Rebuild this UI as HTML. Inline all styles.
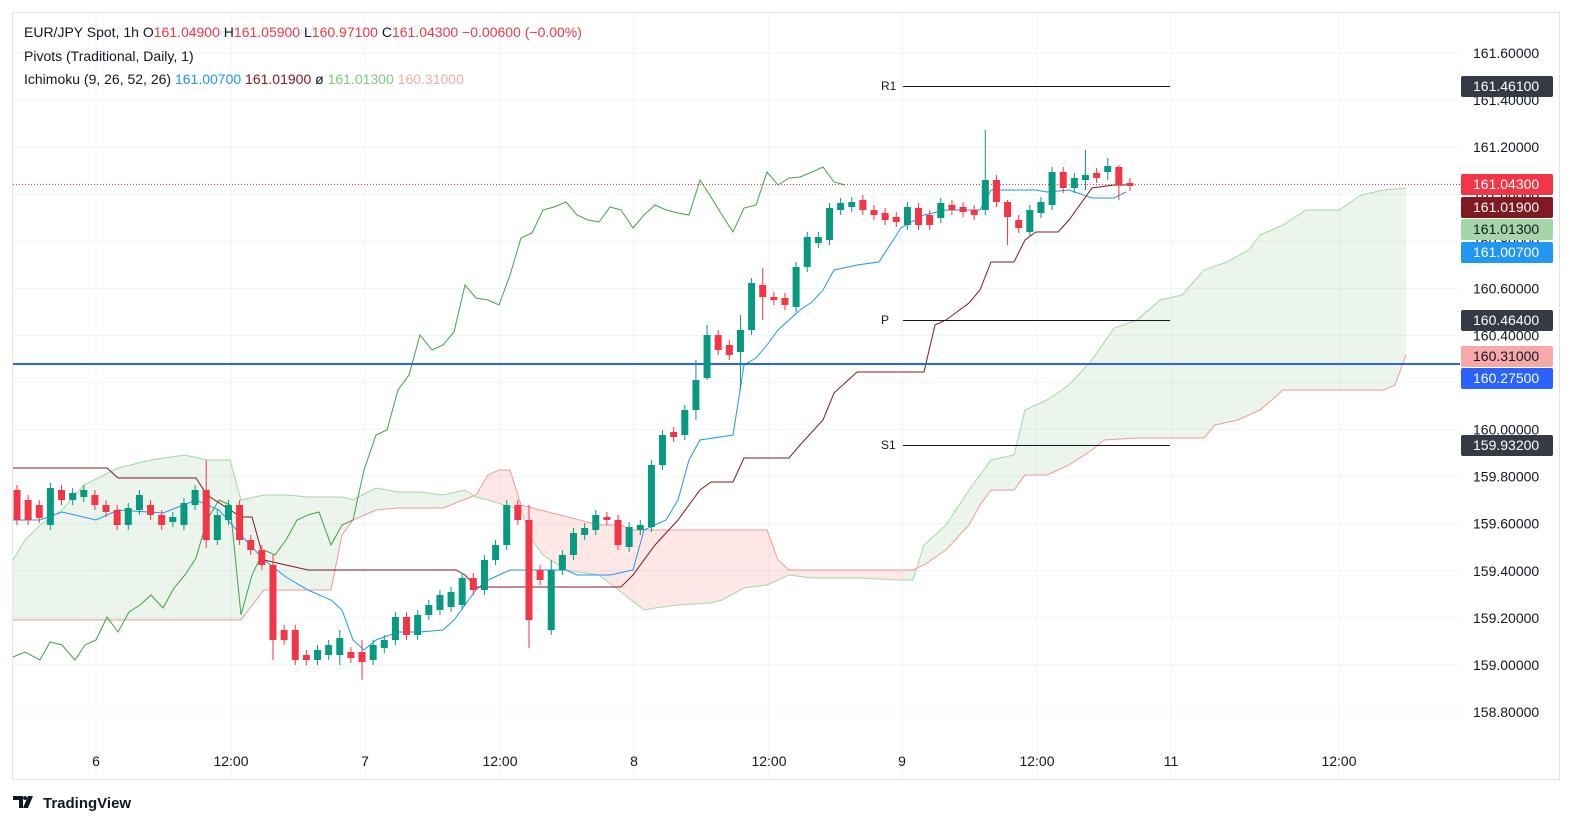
<!DOCTYPE html>
<html><head><meta charset="utf-8"><style>
body{margin:0;background:#fff;width:1572px;height:828px;overflow:hidden;font-family:"Liberation Sans",sans-serif}
svg{position:absolute;left:0;top:0}
</style></head><body>
<svg id="s" width="1572" height="828" xmlns="http://www.w3.org/2000/svg" font-family="Liberation Sans, sans-serif">
<rect x="12.5" y="12.5" width="1547" height="767" fill="#fff" stroke="#e0e3eb"/>
<g id="grid" stroke="#f0f3fa" stroke-width="1"></g>
<g id="cloud"></g>
<g id="lines" fill="none"></g>
<line x1="13" y1="184.5" x2="1460" y2="184.5" stroke="#f23645" stroke-dasharray="1,2"/>
<line x1="13" y1="364" x2="1460" y2="364" stroke="#2962ff" stroke-width="2"/>
<g stroke="#131722" stroke-width="1">
<line x1="903" y1="86.5" x2="1170" y2="86.5"/><line x1="903" y1="320.5" x2="1170" y2="320.5"/><line x1="903" y1="445.5" x2="1170" y2="445.5"/></g>
<g font-size="12" fill="#131722"><text x="881" y="90">R1</text><text x="881" y="324">P</text><text x="881" y="449">S1</text></g>
<g id="candles"></g>
<g id="axis" font-size="14" fill="#131722"></g>
<g font-size="14" fill="#131722" text-anchor="middle">
<text x="96" y="766">6</text><text x="231" y="766">12:00</text><text x="365" y="766">7</text><text x="500" y="766">12:00</text><text x="634" y="766">8</text><text x="769" y="766">12:00</text><text x="902" y="766">9</text><text x="1037" y="766">12:00</text><text x="1171" y="766">11</text><text x="1339" y="766">12:00</text></g>
<g font-size="14">
<text x="24" y="37" fill="#131722">EUR/JPY Spot, 1h <tspan fill="#f23645"><tspan fill="#131722">O</tspan>161.04900 <tspan fill="#131722">H</tspan>161.05900 <tspan fill="#131722">L</tspan>160.97100 <tspan fill="#131722">C</tspan>161.04300 −0.00600 (−0.00%)</tspan></text>
<text x="24" y="61" fill="#131722">Pivots (Traditional, Daily, 1)</text>
<text x="24" y="84" fill="#131722">Ichimoku (9, 26, 52, 26) <tspan fill="#2196f3">161.00700</tspan> <tspan fill="#801922">161.01900</tspan> <tspan fill="#131722">ø</tspan> <tspan fill="#81c784">161.01300</tspan> <tspan fill="#f7a9a7">160.31000</tspan></text>
</g>
<g id="labels" font-size="14"></g>
<g transform="translate(13,796)"><path d="M0 0h10v12h-4v-8h-6z M12 0a2 2 0 1 0 0.1 0z M15 0h5l-5 12h-5z" fill="#131722"/><text x="30" y="12" font-size="15" font-weight="bold" fill="#131722">TradingView</text></g>
</svg>
<script>
const NS="http://www.w3.org/2000/svg";
function el(p,t,a,txt){const e=document.createElementNS(NS,t);for(const k in a)e.setAttribute(k,a[k]);if(txt)e.textContent=txt;document.getElementById(p).appendChild(e);return e;}
// grid + axis
for(let k=0;k<15;k++){const y=53+47.07*k;const v=(161.6-0.2*k).toFixed(5);
el('grid','line',{x1:13,x2:1460,y1:y,y2:y});
el('axis','text',{x:1473,y:y+5},v);}
[96,231,365,500,634,769,902,1037,1171,1339].forEach(x=>el('grid','line',{x1:x,x2:x,y1:13,y2:780}));
const pts=a=>a.map(p=>p.join(',')).join(' ');
const A=[[13,560],[25,540],[40,525],[62,510],[84,485],[118,468],[151,460],[185,455],[207,460],[230,460],[241,500],[264,495],[286,495],[308,497],[342,497],[353,500],[376,488],[398,492],[420,492],[443,495],[465,490],[476,497],[488,500],[521,510],[532,540],[543,555],[566,570],[599,575],[621,592],[644,610],[655,608],[678,605],[711,603],[722,600],[744,588],[767,585],[789,575],[812,578],[857,578],[901,580],[913,580],[924,545],[946,525],[969,490],[991,460],[1014,455],[1025,410],[1047,400],[1069,385],[1092,360],[1114,328],[1137,320],[1160,300],[1182,295],[1204,270],[1227,262],[1249,250],[1260,235],[1283,225],[1306,210],[1339,210],[1361,195],[1384,190],[1406,188]];
const B=[[13,620],[241,620],[264,590],[331,590],[342,535],[353,520],[376,510],[398,508],[443,508],[476,495],[488,475],[499,470],[510,470],[521,505],[599,525],[621,525],[633,530],[767,530],[778,560],[789,570],[901,570],[913,570],[924,565],[946,550],[969,525],[980,505],[991,490],[1014,490],[1025,475],[1047,475],[1069,465],[1092,450],[1104,440],[1137,438],[1204,438],[1215,425],[1238,420],[1260,410],[1272,400],[1283,390],[1384,390],[1395,385],[1406,355]];
const poly=pts(A)+' '+pts(B.slice().reverse());
const defs=el('cloud','defs',{});
defs.innerHTML='<clipPath id="cg"><rect x="0" y="0" width="470" height="828"/><rect x="905" y="0" width="600" height="828"/></clipPath><clipPath id="cr"><rect x="470" y="0" width="435" height="828"/></clipPath>';
el('cloud','polygon',{points:poly,fill:'rgba(67,160,71,0.1)','clip-path':'url(#cg)'});
el('cloud','polygon',{points:poly,fill:'rgba(244,67,54,0.12)','clip-path':'url(#cr)'});
el('lines','polyline',{points:pts(A),stroke:'#a5d6a7','stroke-width':1});
el('lines','polyline',{points:pts(B),stroke:'#ef9a9a','stroke-width':1});
const lag=[[13,657],[25,652],[40,660],[50,642],[62,645],[75,660],[85,645],[96,640],[107,617],[118,632],[129,612],[140,605],[151,595],[163,608],[174,588],[185,575],[196,558],[207,520],[219,500],[230,505],[241,615],[252,575],[264,550],[275,555],[286,540],[297,520],[308,515],[319,512],[331,545],[342,525],[353,520],[364,470],[376,435],[387,430],[398,390],[409,375],[420,335],[432,350],[443,345],[454,332],[465,285],[476,298],[488,300],[499,305],[510,275],[521,238],[532,233],[543,210],[554,207],[566,202],[577,215],[588,220],[599,222],[610,207],[621,210],[633,228],[644,215],[655,205],[666,210],[678,213],[689,215],[700,180],[711,197],[722,215],[733,232],[744,208],[756,205],[767,172],[778,185],[789,178],[800,177],[812,172],[823,167],[834,182],[845,185]];
el('lines','polyline',{points:pts(lag),stroke:'#43a047','stroke-width':1});
const conv=[[13,520],[40,520],[62,512],[96,520],[118,510],[163,513],[196,500],[219,510],[241,535],[264,560],[286,577],[308,590],[331,600],[342,610],[353,640],[364,650],[376,640],[398,632],[420,632],[443,630],[454,620],[465,605],[476,590],[488,580],[499,575],[510,570],[566,570],[577,575],[610,575],[633,570],[644,530],[666,520],[678,500],[689,460],[700,440],[733,435],[744,365],[756,358],[767,345],[778,330],[800,310],[812,302],[823,290],[834,270],[857,265],[879,262],[890,245],[901,228],[924,215],[946,210],[980,210],[991,190],[1036,190],[1047,192],[1069,190],[1092,198],[1114,198],[1126,192]];
el('lines','polyline',{points:pts(conv),stroke:'#2196f3','stroke-width':1});
const base=[[13,468],[107,468],[118,478],[196,478],[207,495],[241,517],[252,517],[264,560],[286,565],[308,570],[456,570],[465,575],[476,587],[621,587],[633,575],[655,545],[678,520],[700,490],[711,482],[733,482],[744,458],[789,458],[800,445],[823,420],[834,393],[857,372],[924,372],[935,325],[946,320],[969,303],[980,290],[991,262],[1014,262],[1025,240],[1036,232],[1058,232],[1069,220],[1092,188],[1114,185],[1126,185]];
el('lines','polyline',{points:pts(base),stroke:'#801922','stroke-width':1});
// candles: [top,bottom,green]
const C=[[490,520,0],[500,520,0],[505,518,0],[488,525,1],[490,500,0],[493,500,1],[490,497,1],[495,505,0],[505,512,0],[510,525,0],[508,525,1],[495,510,1],[505,515,0],[515,525,0],[517,522,1],[503,525,1],[490,505,1],[490,540,0],[515,540,1],[505,520,1],[505,540,0],[540,550,0],[550,565,0],[565,640,0],[630,640,0],[630,660,0],[655,660,0],[650,660,1],[645,655,1],[638,655,1],[652,658,0],[652,662,0],[645,660,1],[640,648,1],[617,640,1],[617,635,0],[615,635,1],[605,615,1],[595,610,1],[592,607,1],[578,605,1],[578,590,0],[560,590,1],[545,560,1],[505,545,1],[505,520,0],[520,620,0],[570,580,0],[570,630,1],[555,570,1],[533,555,1],[528,535,1],[515,530,1],[517,520,0],[520,545,0],[527,547,1],[525,530,1],[465,527,1],[435,465,1],[432,437,0],[410,435,1],[380,410,1],[335,378,1],[335,350,0],[345,355,0],[330,352,1],[283,330,1],[285,297,0],[297,300,0],[298,305,0],[267,307,1],[237,267,1],[237,243,1],[208,240,1],[203,210,1],[202,207,1],[200,210,0],[210,215,0],[213,220,0],[217,222,0],[207,225,1],[208,225,0],[215,225,0],[203,218,1],[205,210,0],[207,212,0],[210,215,0],[180,210,1],[180,202,0],[202,217,0],[220,228,0],[210,232,1],[202,213,1],[172,205,1],[172,188,0],[178,188,1],[175,180,1],[173,178,0],[166,172,1],[167,185,0],[183,186,0]];
const wick={17:[460,548],23:[555,660],46:[505,648],48:[560,635],87:[130,215],89:[200,245],96:[150,190],98:[158,180],99:[165,200],61:[360,420],65:[315,390],67:[268,320],62:[325,380],29:[630,665],31:[640,680],22:[545,570]};
C.forEach((c,i)=>{const x=17+11.13*i;const col=c[2]?'#089981':'#f23645';
let w=wick[i]||[c[0]-5,c[1]+5];
el('candles','line',{x1:x,x2:x,y1:w[0],y2:w[1],stroke:col});
el('candles','rect',{x:x-3.5,y:c[0],width:7,height:Math.max(1,c[1]-c[0]),fill:col});});
// right labels
const L=[[86,'161.46100','#363a45','#fff'],[184,'161.04300','#f23645','#fff'],[207,'161.01900','#801922','#fff'],[229,'161.01300','#a5d6a7','#131722'],[252,'161.00700','#2196f3','#fff'],[320,'160.46400','#363a45','#fff'],[356,'160.31000','#f7a9a7','#131722'],[378,'160.27500','#2962ff','#fff'],[445,'159.93200','#363a45','#fff']];
L.forEach(l=>{el('labels','rect',{x:1461,y:l[0]-10,width:92,height:21,rx:2,fill:l[2]});el('labels','text',{x:1473,y:l[0]+5,fill:l[3]},l[1]);});
</script>
</body></html>
